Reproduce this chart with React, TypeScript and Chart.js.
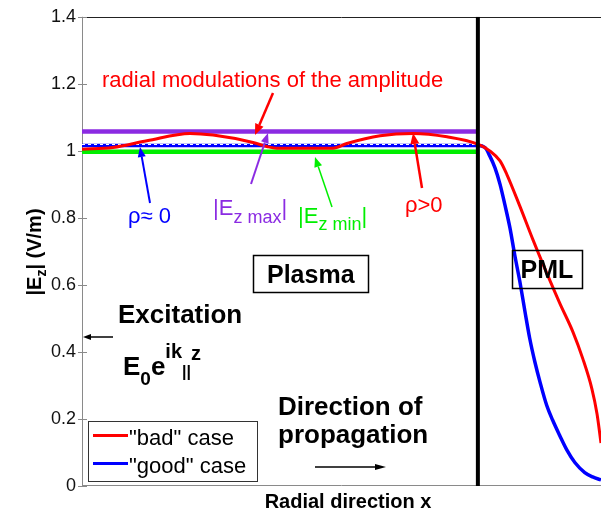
import React, { useEffect, useRef } from "react";
import { Chart, registerables } from "chart.js";
Chart.register(...registerables);

// ---------- data ----------
const X_MAX = 1.311; // radial extent shown (wall / PML start at 1.0)
const WALL_X = 1.0;
const Y_MIN = 0;
const Y_MAX = 1.4;
const Y_TICKS = [0, 0.2, 0.4, 0.6, 0.8, 1, 1.2, 1.4];
const Y_TICK_LABELS = ["0", "0.2", "0.4", "0.6", "0.8", "1", "1.2", "1.4"];

// "bad" case (red)
const BAD_X = [0, 0.078, 0.164, 0.273, 0.331, 0.432, 0.467, 0.492, 0.634, 0.669, 0.753, 0.836, 0.922, 1.0,
  1.03, 1.056, 1.073, 1.106, 1.139, 1.174, 1.207, 1.24, 1.265, 1.288, 1.301, 1.311];
const BAD_Y = [1.005, 1.01, 1.03, 1.052, 1.047, 1.025, 1.013, 1.008, 1.008, 1.022, 1.045, 1.052, 1.042, 1.02,
  1.0, 0.97, 0.93, 0.835, 0.735, 0.635, 0.545, 0.46, 0.38, 0.29, 0.215, 0.128];

// "good" case (blue)
const GOOD_X = [0, 1.0, 1.018, 1.03, 1.043, 1.056, 1.068, 1.081, 1.093, 1.106, 1.119, 1.131, 1.144, 1.157,
  1.174, 1.189, 1.207, 1.225, 1.245, 1.27, 1.29, 1.311];
const GOOD_Y = [1.016, 1.016, 1.01, 0.985, 0.95, 0.9, 0.84, 0.77, 0.69, 0.61, 0.52, 0.44, 0.37, 0.31,
  0.24, 0.196, 0.15, 0.107, 0.07, 0.04, 0.027, 0.018];

// envelope levels inside the plasma
const LEVEL_X = [0, WALL_X];
const MAX_Y = [1.058, 1.058];
const MIN_Y = [0.997, 0.997];
const GOOD_DASH_Y = [1.019, 1.019];

const WALL_Y = [Y_MIN, Y_MAX];

// ---------- styles ----------
const FONT = '"Liberation Sans", Arial, Helvetica, sans-serif';
const RED = "#ff0000";
const BLUE = "#0000ff";
const GREEN = "#00ee00";
const PURPLE = "#8b2be2";

type Seg = { t: string; size: number; dy?: number; bold?: boolean };

function drawRich(ctx: CanvasRenderingContext2D, x: number, y: number, segs: Seg[], color: string) {
  ctx.fillStyle = color;
  ctx.textBaseline = "alphabetic";
  ctx.textAlign = "left";
  let cx = x;
  for (const s of segs) {
    ctx.font = `${s.bold ? "bold " : ""}${s.size}px ${FONT}`;
    ctx.fillText(s.t, cx, y + (s.dy || 0));
    cx += ctx.measureText(s.t).width;
  }
  return cx - x;
}

function richWidth(ctx: CanvasRenderingContext2D, segs: Seg[]) {
  let w = 0;
  for (const s of segs) {
    ctx.font = `${s.bold ? "bold " : ""}${s.size}px ${FONT}`;
    w += ctx.measureText(s.t).width;
  }
  return w;
}

function arrow(ctx: CanvasRenderingContext2D, x1: number, y1: number, x2: number, y2: number,
  color: string, lw: number, head = 10, hw = 4) {
  ctx.save();
  ctx.strokeStyle = color;
  ctx.fillStyle = color;
  ctx.lineWidth = lw;
  const ang = Math.atan2(y2 - y1, x2 - x1);
  const bx = x2 - head * Math.cos(ang);
  const by = y2 - head * Math.sin(ang);
  ctx.beginPath();
  ctx.moveTo(x1, y1);
  ctx.lineTo(bx, by);
  ctx.stroke();
  const px = -Math.sin(ang) * hw;
  const py = Math.cos(ang) * hw;
  ctx.beginPath();
  ctx.moveTo(x2, y2);
  ctx.lineTo(bx + px, by + py);
  ctx.lineTo(bx - px, by - py);
  ctx.closePath();
  ctx.fill();
  ctx.restore();
}

const framePlugin = {
  id: "frame",
  beforeDatasetsDraw(chart: any) {
    const { ctx, chartArea } = chart;
    const { left, right, top, bottom } = chartArea;
    const yScale = chart.scales.y;
    ctx.save();
    ctx.lineWidth = 1;
    ctx.strokeStyle = "#222";
    ctx.beginPath();
    ctx.moveTo(left, Math.round(top) + 0.5);
    ctx.lineTo(right, Math.round(top) + 0.5);
    ctx.stroke();
    ctx.strokeStyle = "#8a8a8a";
    ctx.beginPath();
    ctx.moveTo(Math.round(left) + 0.5, top);
    ctx.lineTo(Math.round(left) + 0.5, bottom);
    ctx.moveTo(left, Math.round(bottom) - 0.5);
    ctx.lineTo(right, Math.round(bottom) - 0.5);
    for (const v of Y_TICKS) {
      const y = Math.round(yScale.getPixelForValue(v)) + 0.5;
      ctx.moveTo(left - 4, y);
      ctx.lineTo(left + 5, y);
    }
    ctx.stroke();
    ctx.restore();
  },
};

const annotationPlugin = {
  id: "annotations",
  afterDatasetsDraw(chart: any) {
    const ctx: CanvasRenderingContext2D = chart.ctx;
    ctx.save();

    // y axis title
    ctx.save();
    ctx.translate(41, 252);
    ctx.rotate(-Math.PI / 2);
    const ySegs: Seg[] = [
      { t: "|E", size: 20, bold: true },
      { t: "z", size: 14, bold: true, dy: 5 },
      { t: "| (V/m)", size: 20, bold: true },
    ];
    drawRich(ctx, -richWidth(ctx, ySegs) / 2, 0, ySegs, "#000");
    ctx.restore();

    // x axis title
    ctx.font = `bold 20px ${FONT}`;
    ctx.fillStyle = "#000";
    ctx.textAlign = "center";
    ctx.textBaseline = "alphabetic";
    ctx.fillText("Radial direction x", 348, 508);

    // radial modulations
    drawRich(ctx, 102, 87, [{ t: "radial modulations of the amplitude", size: 22 }], RED);
    arrow(ctx, 273, 93, 255, 135, RED, 2.5, 11, 4.5);

    // rho ≈ 0
    drawRich(ctx, 128, 223, [{ t: "ρ≈ 0", size: 22 }], BLUE);
    arrow(ctx, 150, 203, 140, 147, BLUE, 2, 10, 4);

    // |Ez max|
    drawRich(ctx, 213, 215, [
      { t: "|E", size: 22 },
      { t: "z max", size: 18, dy: 8 },
      { t: "|", size: 22 },
    ], PURPLE);
    arrow(ctx, 251, 184, 268, 133, PURPLE, 2, 10, 4);

    // |Ez min|
    drawRich(ctx, 298, 223, [
      { t: "|E", size: 22 },
      { t: "z min", size: 18, dy: 7 },
      { t: "|", size: 22 },
    ], GREEN);
    arrow(ctx, 332, 207, 315, 157, GREEN, 1.5, 10, 4);

    // rho > 0
    drawRich(ctx, 405, 212, [{ t: "ρ>0", size: 22 }], RED);
    arrow(ctx, 422, 188, 413, 133, RED, 2.5, 11, 4.5);

    // Plasma box
    ctx.strokeStyle = "#000";
    ctx.lineWidth = 1.5;
    ctx.strokeRect(253.5, 255.5, 115, 37);
    drawRich(ctx, 267, 283, [{ t: "Plasma", size: 25, bold: true }], "#000");

    // PML box
    ctx.strokeRect(512.5, 250.5, 70, 38);
    ctx.font = `bold 25px ${FONT}`;
    ctx.fillStyle = "#000";
    ctx.textAlign = "center";
    ctx.fillText("PML", 547, 278);
    ctx.textAlign = "left";

    // Excitation
    drawRich(ctx, 118, 323, [{ t: "Excitation", size: 26, bold: true }], "#000");
    arrow(ctx, 113, 337, 83, 337, "#000", 1.5, 8, 3);
    drawRich(ctx, 123, 375, [
      { t: "E", size: 26, bold: true },
      { t: "0", size: 19, bold: true, dy: 10 },
      { t: "e", size: 26, bold: true },
      { t: "ik", size: 20, bold: true, dy: -17 },
      { t: "||", size: 16, bold: true, dy: 2 },
      { t: "z", size: 20, bold: true, dy: -15 },
    ], "#000");

    // Direction of propagation
    drawRich(ctx, 278, 415, [{ t: "Direction of", size: 26, bold: true }], "#000");
    drawRich(ctx, 278, 443, [{ t: "propagation", size: 26, bold: true }], "#000");
    arrow(ctx, 315, 467, 386, 467, "#000", 1.5, 11, 3);

    // Legend
    ctx.fillStyle = "#fff";
    ctx.fillRect(88, 421, 169, 60);
    ctx.strokeStyle = "#333";
    ctx.lineWidth = 1;
    ctx.strokeRect(88.5, 421.5, 169, 60);
    ctx.lineWidth = 3;
    ctx.strokeStyle = RED;
    ctx.beginPath();
    ctx.moveTo(93, 435.5);
    ctx.lineTo(128, 435.5);
    ctx.stroke();
    ctx.strokeStyle = BLUE;
    ctx.beginPath();
    ctx.moveTo(93, 463.5);
    ctx.lineTo(128, 463.5);
    ctx.stroke();
    drawRich(ctx, 129, 445, [{ t: '"bad" case', size: 22 }], "#000");
    drawRich(ctx, 129, 473, [{ t: '"good" case', size: 22 }], "#000");

    ctx.restore();
  },
};

const toPts = (xs: number[], ys: number[]) => xs.map((x, i) => ({ x, y: ys[i] }));

export default function App() {
  const canvasRef = useRef<HTMLCanvasElement | null>(null);

  useEffect(() => {
    const canvas = canvasRef.current;
    if (!canvas) return;
    const chart = new Chart(canvas, {
      type: "line",
      data: {
        datasets: [
          { label: "wall", data: toPts([WALL_X, WALL_X], WALL_Y), borderColor: "#000", borderWidth: 4, pointRadius: 0 },
          { label: '"bad" case', data: toPts(BAD_X, BAD_Y), borderColor: RED, borderWidth: 3, pointRadius: 0, cubicInterpolationMode: "monotone" },
          { label: "good dash", data: toPts(LEVEL_X, GOOD_DASH_Y), borderColor: "#ffffff", borderWidth: 1, borderDash: [3, 3], pointRadius: 0 },
          { label: '"good" case', data: toPts(GOOD_X, GOOD_Y), borderColor: BLUE, borderWidth: 3.5, pointRadius: 0, cubicInterpolationMode: "monotone" },
          { label: "|Ez max|", data: toPts(LEVEL_X, MAX_Y), borderColor: PURPLE, borderWidth: 4.5, pointRadius: 0 },
          { label: "|Ez min|", data: toPts(LEVEL_X, MIN_Y), borderColor: GREEN, borderWidth: 4.5, pointRadius: 0 },
        ] as any,
      },
      options: {
        responsive: false,
        animation: false,
        devicePixelRatio: 1,
        layout: { padding: { top: 13, bottom: 30, left: 0, right: 0 } },
        plugins: { legend: { display: false }, tooltip: { enabled: false } },
        scales: {
          x: { type: "linear", min: 0, max: X_MAX, display: false },
          y: {
            type: "linear",
            min: Y_MIN,
            max: Y_MAX,
            afterFit: (s: any) => { s.width = 82; },
            afterBuildTicks: (s: any) => { s.ticks = Y_TICKS.map((v) => ({ value: v })); },
            ticks: {
              callback: (_v: any, i: number) => Y_TICK_LABELS[i],
              font: { family: FONT, size: 18 },
              color: "#111",
              padding: 6,
            },
            grid: { display: false, drawTicks: false },
            border: { display: false },
          },
        },
      } as any,
      plugins: [framePlugin, annotationPlugin],
    });
    return () => chart.destroy();
  }, []);

  return (
    <div style={{ position: "absolute", left: 0, top: 0, width: 601, height: 516, background: "#fff" }}>
      <canvas ref={canvasRef} width={601} height={516} style={{ display: "block" }} />
    </div>
  );
}
